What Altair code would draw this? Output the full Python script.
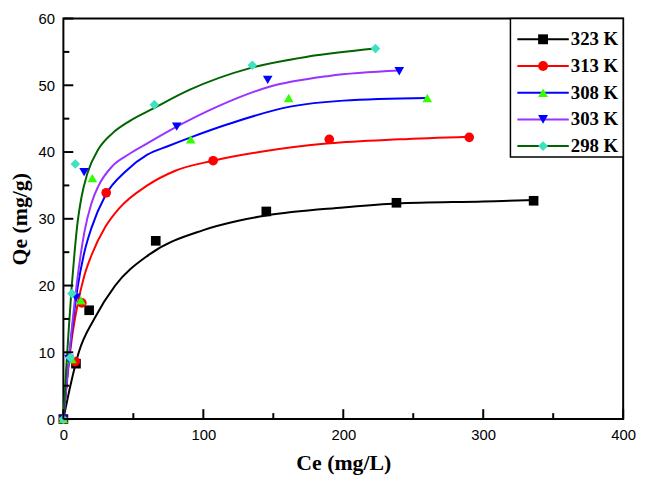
import altair as alt
import pandas as pd

# ---- data ----
series = ["323 K", "313 K", "308 K", "303 K", "298 K"]

# measured points (Ce, Qe)
pts_323_x = [0, 9, 18.4, 66, 145, 238, 336]
pts_323_y = [0, 8.3, 16.3, 26.7, 31.1, 32.4, 32.7]
pts_313_x = [0, 8.5, 13.2, 30.6, 107, 190, 290]
pts_313_y = [0, 8.6, 17.4, 33.9, 38.7, 41.9, 42.2]
pts_308_x = [0, 6, 12.5, 20.7, 91, 161, 260]
pts_308_y = [0, 9.0, 17.8, 36.1, 41.9, 48.1, 48.1]
pts_303_x = [0, 4, 9, 14.8, 81, 146, 240]
pts_303_y = [0, 9.0, 18.2, 37.0, 43.8, 50.8, 52.1]
pts_298_x = [0, 4.9, 6.1, 8.5, 65, 135, 223]
pts_298_y = [0, 9.2, 18.8, 38.2, 47.1, 53.0, 55.5]

# fitted curves
fit_323_x = [0, 5, 11, 22, 37, 61, 100, 125, 145, 200, 238, 300, 337]
fit_323_y = [0, 5.0, 10.0, 15.0, 20.0, 24.6, 28.3, 29.7, 30.5, 31.7, 32.3, 32.6, 32.8]
fit_313_x = [0, 3, 6, 10, 15, 20, 30, 40, 60, 80, 107, 140, 190, 240, 290]
fit_313_y = [0, 6.5, 12.0, 17.0, 21.5, 24.5, 28.8, 31.6, 35.0, 37.2, 38.7, 40.0, 41.3, 41.9, 42.3]
fit_308_x = [0, 3, 6, 10, 15, 20, 30, 45, 60, 75, 91, 118, 162, 200, 260]
fit_308_y = [0, 7.0, 13.0, 19.5, 25.0, 28.6, 33.5, 37.2, 39.6, 40.9, 42.2, 44.2, 46.8, 47.7, 48.1]
fit_303_x = [0, 3, 6, 10, 15, 20, 25, 35, 47, 60, 81, 110, 146, 190, 240]
fit_303_y = [0, 7.0, 13.5, 21.0, 28.0, 32.3, 34.9, 37.9, 39.7, 41.3, 43.8, 46.8, 49.7, 51.4, 52.2]
fit_298_x = [0, 2, 4, 6, 8, 10, 13, 17, 25, 35, 47, 64, 90, 134, 175, 223]
fit_298_y = [0, 7.5, 14.0, 20.0, 25.0, 29.2, 33.3, 36.7, 40.4, 42.8, 44.6, 46.5, 49.3, 52.6, 54.3, 55.5]

line_colors = ["#000000", "#ff0000", "#0000ff", "#9933ff", "#006400"]
marker_colors = ["#000000", "#ff0000", "#33ff00", "#0000ff", "#40e0c0"]
marker_shapes = ["square", "circle", "triangle-up", "triangle-down", "diamond"]

x_major = [0, 100, 200, 300, 400]
x_minor = [50, 150, 250, 350]
y_major = [0, 10, 20, 30, 40, 50, 60]
y_minor = [5, 15, 25, 35, 45, 55]

# ---- build tables ----
pts_list = [(pts_323_x, pts_323_y), (pts_313_x, pts_313_y), (pts_308_x, pts_308_y),
            (pts_303_x, pts_303_y), (pts_298_x, pts_298_y)]
fit_list = [(fit_323_x, fit_323_y), (fit_313_x, fit_313_y), (fit_308_x, fit_308_y),
            (fit_303_x, fit_303_y), (fit_298_x, fit_298_y)]

pts_rows, fit_rows = [], []
for s, (xs, ys) in zip(series, pts_list):
    pts_rows += [{"series": s, "Ce": a, "Qe": b} for a, b in zip(xs, ys)]
for s, (xs, ys) in zip(series, fit_list):
    for i, (a, b) in enumerate(zip(xs, ys)):
        fit_rows.append({"series": s, "Ce": a, "Qe": b, "i": i})
pts_df = pd.DataFrame(pts_rows)
fit_df = pd.DataFrame(fit_rows)

W, H = 566, 405
xscale = alt.Scale(domain=[0, 400], nice=False, zero=False)
yscale = alt.Scale(domain=[0, 60], nice=False, zero=False)

xaxis = alt.Axis(values=x_major, ticks=False, domain=False, grid=False, labelFont="Liberation Sans",
                 labelFontSize=15, labelColor="black", labelPadding=9, title="Ce (mg/L)",
                 titleFont="Liberation Serif", titleFontSize=22, titleFontWeight="bold",
                 titleColor="black", titlePadding=10, labelFlush=False)
yaxis = alt.Axis(values=y_major, ticks=False, domain=False, grid=False, labelFont="Liberation Sans",
                 labelFontSize=15, labelColor="black", labelPadding=9, title="Qe (mg/g)",
                 titleFont="Liberation Serif", titleFontSize=22, titleFontWeight="bold",
                 titleColor="black", titlePadding=7, labelFlush=False)

curves = alt.Chart(fit_df).mark_line(interpolate="monotone", strokeWidth=2).encode(
    x=alt.X("Ce:Q", scale=xscale, axis=xaxis),
    y=alt.Y("Qe:Q", scale=yscale, axis=yaxis),
    color=alt.Color("series:N", scale=alt.Scale(domain=series, range=line_colors), legend=None),
    order="i:Q",
)

points = alt.Chart(pts_df).mark_point(filled=True, size=95, opacity=1, strokeWidth=0).encode(
    x=alt.X("Ce:Q", scale=xscale),
    y=alt.Y("Qe:Q", scale=yscale),
    fill=alt.Fill("series:N", scale=alt.Scale(domain=series, range=marker_colors), legend=None),
    shape=alt.Shape("series:N", scale=alt.Scale(domain=series, range=marker_shapes), legend=None),
)

# inward axis ticks drawn as line-shaped symbols sitting on the axes
# (symbol path is scaled by sqrt(size)/2, so "M0,0L0,-2" is sqrt(size) px long)
def xticks(vals, length):
    d = pd.DataFrame({"Ce": vals, "Qe": [0] * len(vals)})
    return alt.Chart(d).mark_point(shape="M0,0L0,-2", filled=False, stroke="black", strokeWidth=2,
                                   opacity=1, size=length * length).encode(
        x=alt.X("Ce:Q", scale=xscale), y=alt.Y("Qe:Q", scale=yscale))

def yticks(vals, length):
    d = pd.DataFrame({"Qe": vals, "Ce": [0] * len(vals)})
    return alt.Chart(d).mark_point(shape="M0,0L2,0", filled=False, stroke="black", strokeWidth=2,
                                   opacity=1, size=length * length).encode(
        x=alt.X("Ce:Q", scale=xscale), y=alt.Y("Qe:Q", scale=yscale))

# ---- custom legend: one small layer group per entry ----
box = alt.Chart(pd.DataFrame({"a": [0]})).mark_rect(fill="white", stroke="black", strokeWidth=1.5).encode(
    x=alt.value(452), x2=alt.value(W), y=alt.value(0), y2=alt.value(140))
legend_layers = []
for k, (s, lc, mc, shp) in enumerate(zip(series, line_colors, marker_colors, marker_shapes)):
    ly = 21 + 27 * k
    d = pd.DataFrame({"series": [s]})
    legend_layers.append(alt.Chart(d).mark_rule(strokeWidth=2, color=lc).encode(
        x=alt.value(459), x2=alt.value(511), y=alt.value(ly)))
    legend_layers.append(alt.Chart(d).mark_point(filled=True, size=100, opacity=1, strokeWidth=0,
                                                 shape=shp, fill=mc).encode(
        x=alt.value(485), y=alt.value(ly)))
    legend_layers.append(alt.Chart(d).mark_text(align="left", baseline="middle", font="Liberation Serif",
                                                fontSize=19, fontWeight="bold", color="black").encode(
        x=alt.value(513), y=alt.value(ly), text="series:N"))

chart = alt.layer(
    curves, points,
    xticks(x_major, 10), xticks(x_minor, 6), yticks(y_major, 10), yticks(y_minor, 6),
    box, *legend_layers,
).properties(
    width=W, height=H,
    autosize=alt.AutoSizeParams(type="none"),
    padding={"left": 56, "top": 8, "right": 16, "bottom": 62},
).configure_view(stroke="black", strokeWidth=2)

chart.save("out.html", embed_options={"renderer": "svg", "actions": False})
